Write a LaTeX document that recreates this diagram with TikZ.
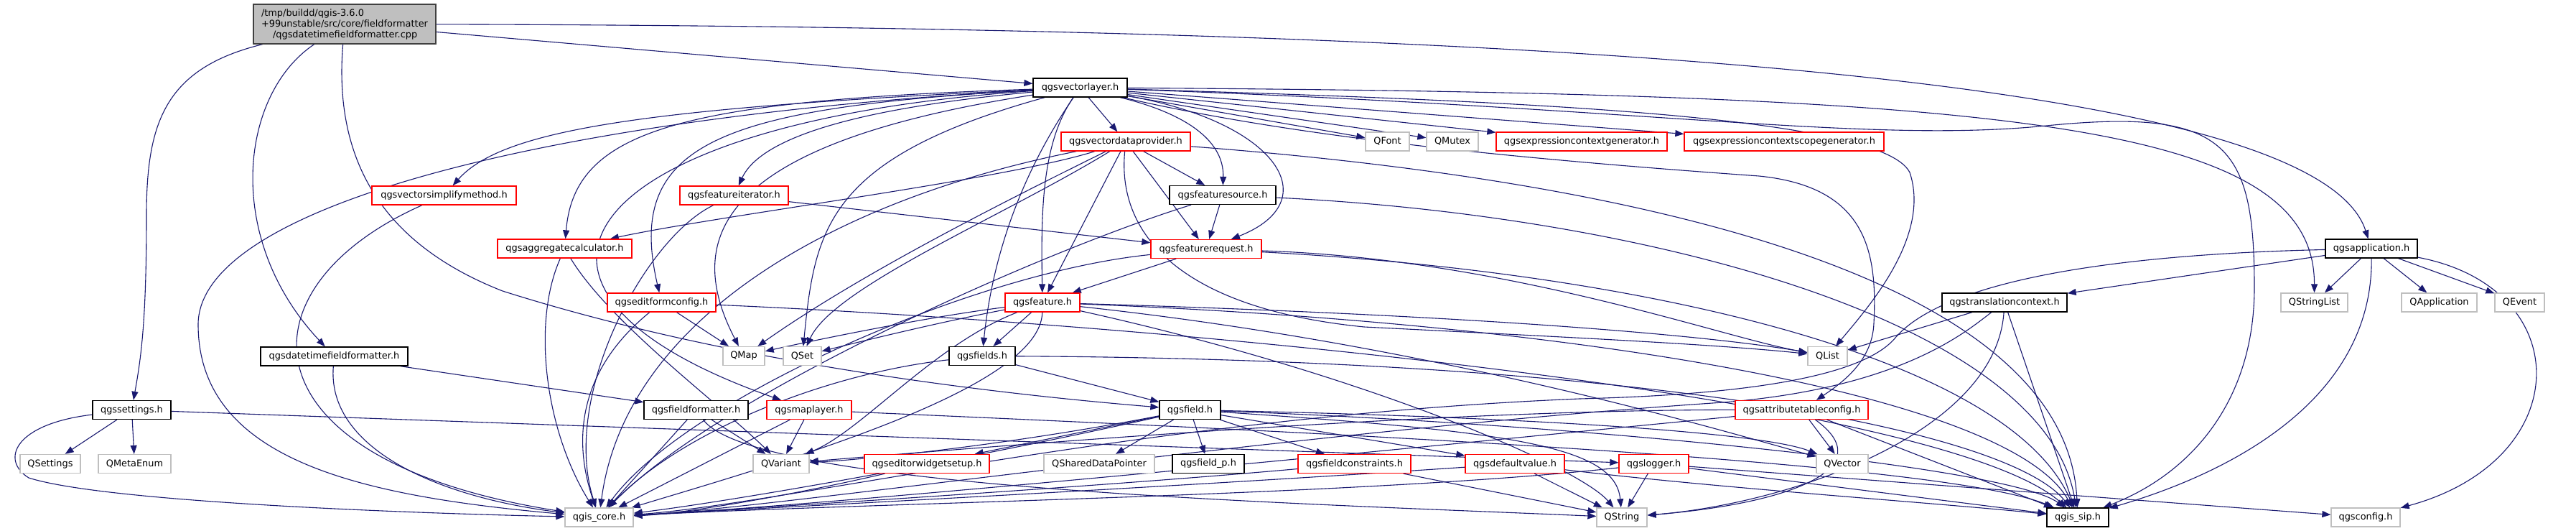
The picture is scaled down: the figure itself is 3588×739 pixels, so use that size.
\documentclass[tikz,border=0pt]{standalone}
\usepackage{fontspec}
\newfontfamily\dvs{DejaVu Sans}
\usetikzlibrary{arrows.meta}
\definecolor{edgecol}{RGB}{25,25,112}
\definecolor{extgray}{RGB}{191,191,191}
\definecolor{rootgray}{RGB}{191,191,191}
\pgfdeclarelayer{bgzero}
\pgfdeclarelayer{edgelayer}
\pgfsetlayers{bgzero,edgelayer,main}
\tikzset{
  nd/.style={rectangle, draw, fill=white, minimum height=26pt, inner sep=0pt, line width=1.3pt, font=\dvs\fontsize{12.9}{15}\selectfont, text=black},
  docbox/.style={nd, draw=black},
  truncbox/.style={nd, draw=red},
  extbox/.style={nd, draw=extgray},
  lnk/.style={draw=edgecol, line width=1.1pt, -{Triangle[length=12pt,width=9pt]}}
}
\begin{document}
\begin{tikzpicture}[x=1pt,y=-1pt]
\begin{pgfonlayer}{bgzero}
\fill[white] (0,0) rectangle (3588,739);
\end{pgfonlayer}
\useasboundingbox (0,0) rectangle (3588,739);
% nodes
\node[nd, draw=black!75, fill=rootgray, minimum width=254pt, minimum height=55pt, align=left] (root) at (480,33.5)
  {/tmp/buildd/qgis-3.6.0\\+99unstable/src/core/fieldformatter\\\hspace*{16pt}/qgsdatetimefieldformatter.cpp};
\node[docbox, minimum width=131pt] (vl) at (1504.5,122) {qgsvectorlayer.h};
\node[truncbox, minimum width=180pt] (vdp) at (1568,197) {qgsvectordataprovider.h};
\node[extbox, minimum width=61pt] (qfont) at (1932.5,197) {QFont};
\node[extbox, minimum width=72pt] (qmutex) at (2023,197) {QMutex};
\node[truncbox, minimum width=238pt] (ecg) at (2203,197) {qgsexpressioncontextgenerator.h};
\node[truncbox, minimum width=278pt] (ecsg) at (2485,197) {qgsexpressioncontextscopegenerator.h};
\node[docbox, minimum width=148pt] (fsrc) at (1703,271.5) {qgsfeaturesource.h};
\node[truncbox, minimum width=154pt] (freq) at (1680,346.5) {qgsfeaturerequest.h};
\node[docbox, minimum width=128pt] (app) at (3303,346) {qgsapplication.h};
\node[truncbox, minimum width=201pt] (vsm) at (618.5,272) {qgsvectorsimplifymethod.h};
\node[truncbox, minimum width=151pt] (fit) at (1022.5,272) {qgsfeatureiterator.h};
\node[truncbox, minimum width=187pt] (agg) at (786.5,346) {qgsaggregatecalculator.h};
\node[truncbox, minimum width=151pt] (efc) at (921.5,421) {qgseditformconfig.h};
\node[extbox, minimum width=58pt] (qmap) at (1036,495.5) {QMap};
\node[extbox, minimum width=53pt] (qset) at (1117.5,495.5) {QSet};
\node[docbox, minimum width=205pt] (dtff) at (465.5,496) {qgsdatetimefieldformatter.h};
\node[docbox, minimum width=109pt] (sett) at (183.5,570.5) {qgssettings.h};
\node[extbox, minimum width=84pt] (qsettings) at (70,645.5) {QSettings};
\node[extbox, minimum width=101pt] (qmeta) at (187.5,645.5) {QMetaEnum};
\node[docbox, minimum width=145pt] (ffmt) at (969.5,570.5) {qgsfieldformatter.h};
\node[truncbox, minimum width=118pt] (mlay) at (1127,570.5) {qgsmaplayer.h};
\node[extbox, minimum width=78pt] (qvar) at (1088,645.5) {QVariant};
\node[extbox, minimum width=95pt] (core) at (834.5,720) {qgis\_core.h};
\node[truncbox, minimum width=104pt] (feat) at (1452,421) {qgsfeature.h};
\node[docbox, minimum width=92pt] (flds) at (1368,495.5) {qgsfields.h};
\node[docbox, minimum width=85pt] (fld) at (1657.5,570.5) {qgsfield.h};
\node[truncbox, minimum width=174pt] (ews) at (1291,645.5) {qgseditorwidgetsetup.h};
\node[extbox, minimum width=154pt] (qsdp) at (1531,645.5) {QSharedDataPointer};
\node[docbox, minimum width=100pt] (fldp) at (1683,645.5) {qgsfield\_p.h};
\node[truncbox, minimum width=157pt] (fcon) at (1886.5,645.5) {qgsfieldconstraints.h};
\node[truncbox, minimum width=138pt] (dval) at (2110,645.5) {qgsdefaultvalue.h};
\node[truncbox, minimum width=97pt] (logr) at (2303.5,645.5) {qgslogger.h};
\node[extbox, minimum width=70pt] (qstr) at (2259,720) {QString};
\node[docbox, minimum width=174pt] (trc) at (2792,421) {qgstranslationcontext.h};
\node[extbox, minimum width=93pt] (qsl) at (3223.5,421) {QStringList};
\node[extbox, minimum width=105pt] (qapp) at (3397.5,421) {QApplication};
\node[extbox, minimum width=69pt] (qevt) at (3509.5,421) {QEvent};
\node[extbox, minimum width=55pt] (qlist) at (2545.5,495.5) {QList};
\node[truncbox, minimum width=185pt] (atc) at (2509.5,570.5) {qgsattributetableconfig.h};
\node[extbox, minimum width=72pt] (qvec) at (2566,645.5) {QVector};
\node[docbox, minimum width=86pt] (sip) at (2894,720) {qgis\_sip.h};
\node[extbox, minimum width=96pt] (cfg) at (3295,720) {qgsconfig.h};

\begin{pgfonlayer}{edgelayer}
% root
\draw[lnk] (root) -- (vl);
\draw[lnk] (root) .. controls (2300,38) and (3230,120) .. (app);
\draw[lnk] (root) .. controls (230,95) and (204,170) .. (204,300) .. controls (204,450) and (196,500) .. (sett);
\draw[lnk] (root) .. controls (335,130) and (310,330) .. (dtff);
\draw[lnk] (root) .. controls (462,250) and (560,350) .. (700,405) .. controls (1000,500) and (1350,545) .. (fld);
% qgsvectorlayer.h
\draw[lnk] (vl) -- (vdp);
\draw[lnk] (vl) -- (qfont);
\draw[lnk] (vl) -- (qmutex);
\draw[lnk] (vl) -- (ecg);
\draw[lnk] (vl) -- (ecsg);
\draw[lnk] (vl) .. controls (1410,260) and (1380,380) .. (flds);
\draw[lnk] (vl) .. controls (1450,200) and (1450,300) .. (feat);
\draw[lnk] (vl) .. controls (1660,160) and (1705,200) .. (fsrc);
\draw[lnk] (vl) .. controls (1780,170) and (1850,280) .. (freq);
\draw[lnk] (vl) .. controls (2100,140) and (2620,160) .. (2660,240) .. controls (2690,330) and (2600,430) .. (qlist);
\draw[lnk] (vl) .. controls (1800,190) and (2100,220) .. (2450,245) .. controls (2600,260) and (2615,350) .. (2610,450) .. controls (2608,500) and (2570,530) .. (atc);
\draw[lnk] (vl) .. controls (2800,130) and (3224,170) .. (qsl);
\draw[lnk] (vl) .. controls (2300,150) and (2600,200) .. (2850,175) .. controls (3100,150) and (3140,200) .. (3140,400) .. controls (3140,560) and (3050,660) .. (sip);
\draw[lnk] (vl) .. controls (800,160) and (280,280) .. (276,450) .. controls (275,640) and (500,690) .. (core);
\draw[lnk] (vl) .. controls (900,150) and (700,180) .. (vsm);
\draw[lnk] (vl) .. controls (1200,150) and (1060,190) .. (fit);
\draw[lnk] (vl) .. controls (950,140) and (800,180) .. (agg);
\draw[lnk] (vl) .. controls (1000,150) and (870,200) .. (efc);
\draw[lnk] (vl) .. controls (1000,200) and (950,330) .. (qmap);
\draw[lnk] (vl) .. controls (1150,220) and (1135,320) .. (qset);
\draw[lnk] (vl) .. controls (800,170) and (640,400) .. (mlay);
% qgsvectordataprovider.h
\draw[lnk] (vdp) -- (fsrc);
\draw[lnk] (vdp) -- (freq);
\draw[lnk] (vdp) -- (feat);
\draw[lnk] (vdp) .. controls (1400,250) and (1000,300) .. (agg);
\draw[lnk] (vdp) .. controls (1400,280) and (1200,380) .. (qmap);
\draw[lnk] (vdp) .. controls (1400,300) and (1160,400) .. (qset);
\draw[lnk] (vdp) .. controls (1555,330) and (1650,430) .. (1900,455) .. controls (2200,470) and (2400,480) .. (qlist);
\draw[lnk] (vdp) .. controls (1150,280) and (870,450) .. (core);
\draw[lnk] (vdp) .. controls (2400,260) and (2880,420) .. (sip);
% qgsfeaturesource.h
\draw[lnk] (fsrc) -- (freq);
\draw[lnk] (fsrc) .. controls (1450,350) and (1000,550) .. (core);
\draw[lnk] (fsrc) .. controls (2300,300) and (2850,450) .. (sip);
% qgsfeaturerequest.h
\draw[lnk] (freq) -- (feat);
\draw[lnk] (freq) .. controls (1350,380) and (950,560) .. (core);
\draw[lnk] (freq) .. controls (2100,360) and (2400,470) .. (qlist);
\draw[lnk] (freq) .. controls (2300,380) and (2800,500) .. (sip);
% qgsfeature.h
\draw[lnk] (feat) .. controls (1300,440) and (1150,470) .. (qmap);
\draw[lnk] (feat) .. controls (1300,450) and (1180,480) .. (qset);
\draw[lnk] (feat) -- (flds);
\draw[lnk] (feat) .. controls (1450,540) and (1100,640) .. (core);
\draw[lnk] (feat) .. controls (1300,480) and (1200,600) .. (qvar);
\draw[lnk] (feat) .. controls (2100,440) and (2400,470) .. (qlist);
\draw[lnk] (feat) .. controls (2000,480) and (2400,600) .. (qvec);
\draw[lnk] (feat) .. controls (1900,520) and (2200,650) .. (qstr);
\draw[lnk] (feat) .. controls (2200,450) and (2800,550) .. (sip);
% qgsfields.h
\draw[lnk] (flds) -- (fld);
\draw[lnk] (flds) .. controls (1150,520) and (950,600) .. (core);
\draw[lnk] (flds) .. controls (2300,500) and (2800,600) .. (sip);
% qgsfield.h
\draw[lnk] (fld) -- (ews);
\draw[lnk] (fld) -- (qsdp);
\draw[lnk] (fld) -- (fldp);
\draw[lnk] (fld) -- (fcon);
\draw[lnk] (fld) -- (dval);
\draw[lnk] (fld) .. controls (2100,600) and (2250,620) .. (qstr);
\draw[lnk] (fld) .. controls (1400,620) and (1200,640) .. (qvar);
\draw[lnk] (fld) .. controls (1300,650) and (1000,700) .. (core);
\draw[lnk] (fld) .. controls (2100,580) and (2450,600) .. (qvec);
\draw[lnk] (fld) .. controls (2200,590) and (2800,650) .. (sip);
% leaves of qgsfield.h
\draw[lnk] (ews) .. controls (1100,690) and (950,715) .. (core);
\draw[lnk] (fcon) -- (qstr);
\draw[lnk] (fcon) .. controls (1500,680) and (1000,710) .. (core);
\draw[lnk] (dval) -- (qstr);
\draw[lnk] (dval) .. controls (2400,680) and (2700,700) .. (sip);
\draw[lnk] (dval) .. controls (1600,680) and (1100,705) .. (core);
\draw[lnk] (logr) -- (qstr);
\draw[lnk] (logr) -- (cfg);
\draw[lnk] (logr) -- (sip);
\draw[lnk] (logr) .. controls (1900,690) and (1200,700) .. (core);
% qgsattributetableconfig.h
\draw[lnk] (atc) -- (qvec);
\draw[lnk] (atc) .. controls (2000,570) and (1400,620) .. (qvar);
\draw[lnk] (atc) .. controls (2620,650) and (2500,700) .. (qstr);
\draw[lnk] (atc) -- (sip);
\draw[lnk] (atc) .. controls (2000,620) and (1200,700) .. (core);
% qgstranslationcontext.h
\draw[lnk] (trc) -- (qlist);
\draw[lnk] (trc) .. controls (2740,460) and (2650,540) .. (2400,560) .. controls (1800,600) and (1100,705) .. (core);
\draw[lnk] (trc) .. controls (2780,600) and (2500,700) .. (qstr);
\draw[lnk] (trc) -- (sip);
% qgsapplication.h
\draw[lnk] (app) -- (qsl);
\draw[lnk] (app) -- (qapp);
\draw[lnk] (app) -- (qevt);
\draw[lnk] (app) -- (trc);
\draw[lnk] (app) .. controls (3590,400) and (3590,640) .. (cfg);
\draw[lnk] (app) .. controls (3305,560) and (3100,660) .. (sip);
\draw[lnk] (app) .. controls (2900,355) and (2700,400) .. (2640,470) .. controls (2590,530) and (2400,550) .. (2200,555) .. controls (1600,580) and (1100,700) .. (core);
% qgssettings.h
\draw[lnk] (sett) -- (qsettings);
\draw[lnk] (sett) -- (qmeta);
\draw[lnk] (sett) -- (logr);
\draw[lnk] (sett) .. controls (20,590) and (0,640) .. (40,665) .. controls (150,700) and (600,715) .. (core);
% qgsdatetimefieldformatter.h
\draw[lnk] (dtff) -- (ffmt);
\draw[lnk] (dtff) .. controls (455,620) and (600,690) .. (core);
% qgsfieldformatter.h
\draw[lnk] (ffmt) -- (qvar);
\draw[lnk] (ffmt) -- (core);
\draw[lnk] (ffmt) .. controls (1050,680) and (1800,700) .. (qstr);
% qgsmaplayer.h
\draw[lnk] (mlay) -- (qvar);
\draw[lnk] (mlay) -- (core);
\draw[lnk] (mlay) .. controls (1800,600) and (2700,640) .. (sip);
% qgsaggregatecalculator.h
\draw[lnk] (agg) .. controls (740,450) and (760,600) .. (core);
\draw[lnk] (agg) .. controls (850,450) and (1000,560) .. (qvar);
% qgsfeatureiterator.h
\draw[lnk] (fit) -- (freq);
\draw[lnk] (fit) .. controls (900,330) and (780,550) .. (core);
% qgsvectorsimplifymethod.h
\draw[lnk] (vsm) .. controls (330,400) and (330,640) .. (core);
% qgseditformconfig.h
\draw[lnk] (efc) -- (qmap);
\draw[lnk] (efc) .. controls (800,520) and (800,620) .. (core);
\draw[lnk] (efc) .. controls (1600,450) and (2700,550) .. (sip);
\end{pgfonlayer}
\end{tikzpicture}
\end{document}
